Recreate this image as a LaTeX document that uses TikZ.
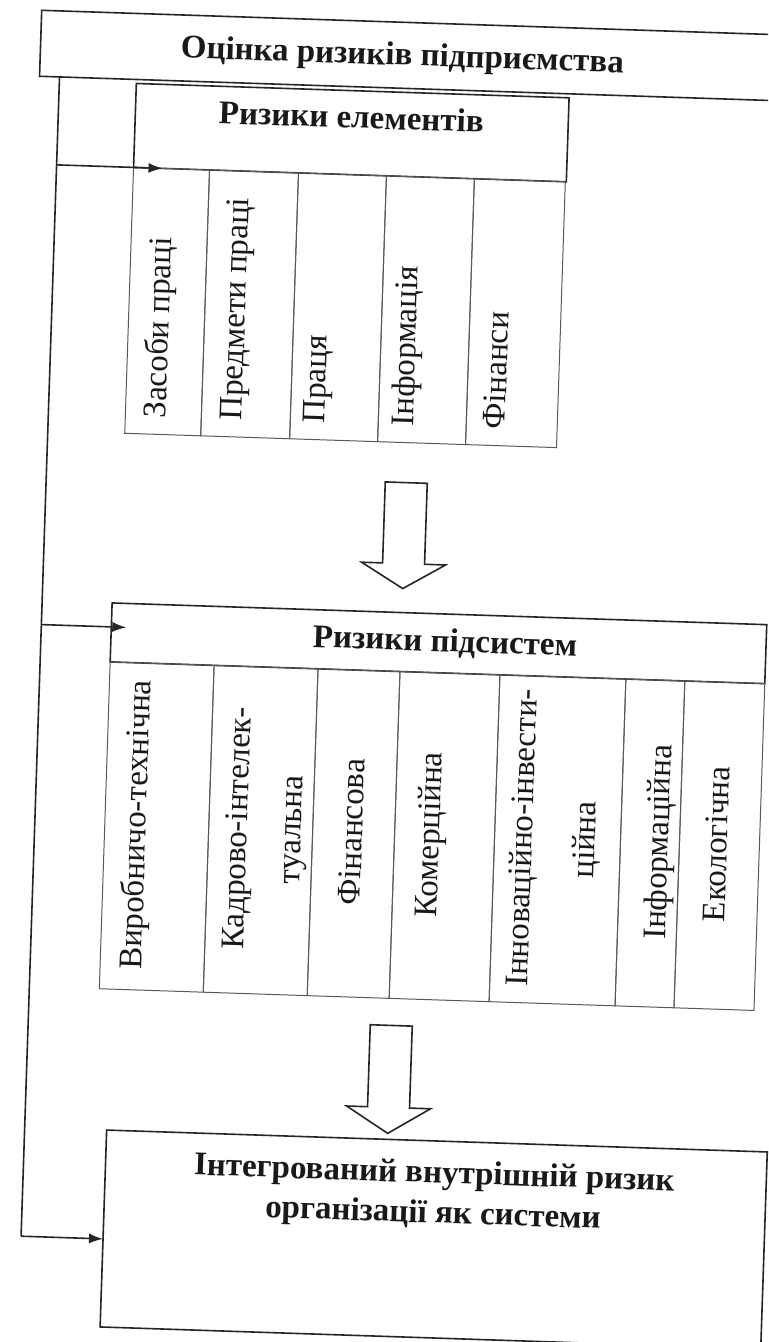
\documentclass[tikz,border=0pt]{standalone}
\usepackage{fontspec}
\setmainfont{Liberation Serif}
\usetikzlibrary{arrows.meta}

\begin{document}
\begin{tikzpicture}[x=0.5pt,y=-0.5pt,
  frame/.style={draw=black!85, line width=0.8pt, inner sep=0pt, outer sep=0pt, anchor=north west},
  cell/.style={draw=black!65, line width=0.5pt, inner sep=0pt, outer sep=0pt, anchor=north west},
  title/.style={font=\bfseries\fontsize{16.5}{16.5}\selectfont, inner sep=0pt, text=black!90},
  vtext/.style={rotate=90, font=\fontsize{16.5}{20}\selectfont, inner sep=0pt, text=black!90},
  trunk/.style={draw=black!85, line width=0.8pt},
  feed/.style={draw=black!85, line width=0.8pt, -{Latex[length=7pt,width=5pt]}},
  hollow/.style={draw=black!85, line width=0.8pt, fill=white, line join=miter}]

\useasboundingbox (0,0) rectangle (768,1342);
\fill[white] (0,0) rectangle (768,1342);
\clip (0,0) rectangle (768,1342);

\begin{scope}[rotate around={-1.9:(384,671)}, transform shape]

% enterprise-level frame
\node[frame, minimum width=390pt, minimum height=33pt] (top) at (20,22) {};
\node[title] (toptxt) at (382,57) {Оцінка ризиків підприємства};

% element risks
\node[frame, minimum width=216.5pt, minimum height=42pt] (elhead) at (117,92) {};
\node[title] (eltxt) at (333,118) {Ризики елементів};
\node[cell, minimum width=38pt,   minimum height=133pt] (el1) at (117,176) {};
\node[cell, minimum width=44.5pt, minimum height=133pt] (el2) at (193,176) {};
\node[cell, minimum width=44pt,   minimum height=133pt] (el3) at (282,176) {};
\node[cell, minimum width=44pt,   minimum height=133pt] (el4) at (370,176) {};
\node[cell, minimum width=45.5pt, minimum height=133pt] (el5) at (458,176) {};
\node[vtext, anchor=west] (el1t) at (149,426) {Засоби праці};
\node[vtext, anchor=west] (el2t) at (226,426) {Предмети праці};
\node[vtext, anchor=west] (el3t) at (309,426) {Праця};
\node[vtext, anchor=west] (el4t) at (397,426) {Інформація};
\node[vtext, anchor=west] (el5t) at (486,426) {Фінанси};

% block arrow: elements -> subsystems
\draw[hollow] (379,482) -- (421,482) -- (421,563) -- (442,563) -- (400,588)
  -- (358,563) -- (379,563) -- cycle;

% subsystem risks
\node[frame, minimum width=327.5pt, minimum height=29.5pt] (subhead) at (110,612) {};
\node[title] (subtxt) at (444,641) {Ризики підсистем};
\node[cell, minimum width=52pt,   minimum height=163.5pt] (sb1) at (110,671) {};
\node[cell, minimum width=52pt,   minimum height=163.5pt] (sb2) at (214,671) {};
\node[cell, minimum width=41pt,   minimum height=163.5pt] (sb3) at (318,671) {};
\node[cell, minimum width=50pt,   minimum height=163.5pt] (sb4) at (400,671) {};
\node[cell, minimum width=63pt,   minimum height=163.5pt] (sb5) at (500,671) {};
\node[cell, minimum width=29.5pt, minimum height=163.5pt] (sb6) at (626,671) {};
\node[cell, minimum width=40pt,   minimum height=163.5pt] (sb7) at (685,671) {};
\node[vtext] (sb1t) at (143,833) {Виробничо-технічна};
\node[vtext, align=center, font=\fontsize{16.5}{27}\selectfont] (sb2t) at (272,833) {Кадрово-інтелек-\\туальна};
\node[vtext] (sb3t) at (357,833) {Фінансова};
\node[vtext] (sb4t) at (437,833) {Комерційна};
\node[vtext, align=center, font=\fontsize{16.5}{31.5}\selectfont] (sb5t) at (561,833) {Інноваційно-інвести-\\ційна};
\node[vtext] (sb6t) at (666,833) {Інформаційна};
\node[vtext] (sb7t) at (722,833) {Екологічна};

% block arrow: subsystems -> integrated risk
\draw[hollow] (382,1025) -- (424,1025) -- (424,1107) -- (445,1107) -- (403,1133)
  -- (361,1107) -- (382,1107) -- cycle;

% integrated risk
\node[frame, minimum width=330.5pt, minimum height=98.5pt] (fin) at (122,1139) {};
\node[title, align=center, font=\bfseries\fontsize{16.5}{20}\selectfont] (fintxt) at (451,1193) {Інтегрований внутрішній ризик\\організації як системи};

% side feed line with its three branches
\coordinate (v0) at (40,88);
\coordinate (v1) at (40,176);
\coordinate (v2) at (40,636);
\coordinate (v3) at (40,1248);
\coordinate (e1) at (146,176);
\coordinate (e2) at (125,636);
\coordinate (e3) at (122,1248);
\draw[trunk] (v0) -- (v3);
\draw[feed] (v1) -- (e1);
\draw[feed] (v2) -- (e2);
\draw[feed] (v3) -- (e3);

\end{scope}
\end{tikzpicture}
\end{document}
